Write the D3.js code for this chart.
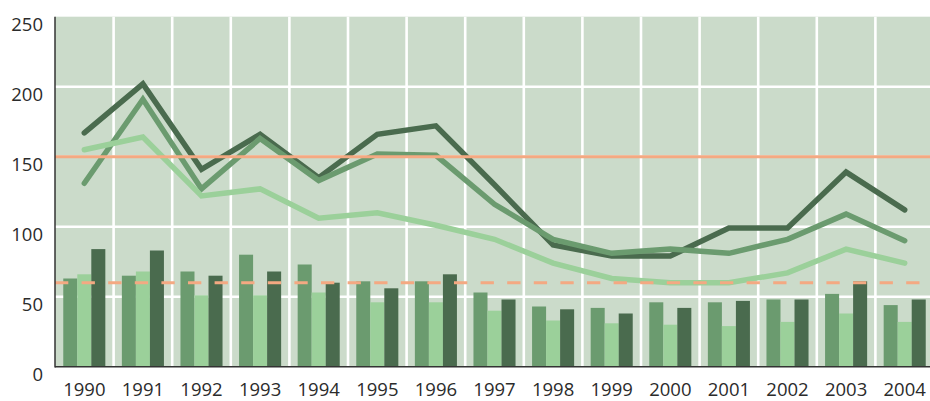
<!DOCTYPE html>
<html>
<head>
<meta charset="utf-8">
<script src="https://cdn.jsdelivr.net/npm/d3@7"></script>
<style>
  html, body { margin: 0; padding: 0; background: #ffffff; }
  svg { display: block; }
  text { font-family: "Open Sans", "Noto Sans", sans-serif; fill: #2b2b2b; }
</style>
</head>
<body>
<svg id="chart" width="930" height="401"></svg>
<script>
const years = ["1990","1991","1992","1993","1994","1995","1996","1997","1998","1999","2000","2001","2002","2003","2004"];
const yTicks = [0, 50, 100, 150, 200, 250];

// bar series (left → right inside each group)
const barMid   = [63, 65, 68, 80, 73, 61, 61, 53, 43, 42, 46, 46, 48, 52, 44];
const barLight = [66, 68, 51, 51, 53, 46, 46, 40, 33, 31, 30, 29, 32, 38, 32];
const barDark  = [84, 83, 65, 68, 60, 56, 66, 48, 41, 38, 42, 47, 48, 61, 48];

// line series
const lineDark  = [167, 202, 141, 166, 135, 166, 172, 130, 87, 79, 79, 99, 99, 139, 112];
const lineMid   = [131, 191, 127, 163, 133, 152, 151, 116, 91, 81, 84, 81, 91, 109, 90];
const lineLight = [155, 164, 122, 127, 106, 110, 101, 91, 74, 63, 60, 60, 67, 84, 74];

// reference levels
const refSolid  = 150;
const refDashed = 60;

const C = {
  bg: "#cbdbca",
  mid: "#6b9b6f",
  light: "#9bd09a",
  dark: "#4a6b4e",
  orange: "#f4a982",
  axis: "#333333"
};

const svg = d3.select("#chart");
const pL = 55, pR = 934, pT = 16.7, pB = 366.7;

const x = d3.scaleBand().domain(years).range([pL, pR]).padding(0);
const y = d3.scaleLinear().domain([0, 250]).range([pB, pT]);
const sub = d3.scaleBand().domain(["mid","light","dark"]).range([0, x.bandwidth()])
  .paddingInner(0).paddingOuter(0.59);

// background
svg.append("rect").attr("x", pL).attr("y", pT)
  .attr("width", pR - pL).attr("height", pB - pT).attr("fill", C.bg);

// gridlines
const g = svg.append("g");
g.selectAll("line.h").data(yTicks.filter(d => d > 0 && d < 250)).join("line")
  .attr("x1", pL).attr("x2", pR)
  .attr("y1", d => y(d)).attr("y2", d => y(d))
  .attr("stroke", "#ffffff").attr("stroke-width", 2.6);
g.selectAll("line.v").data(years.slice(1)).join("line")
  .attr("x1", d => x(d)).attr("x2", d => x(d))
  .attr("y1", pT).attr("y2", pB)
  .attr("stroke", "#ffffff").attr("stroke-width", 2.6);

// bars
const series = [
  { key: "mid", values: barMid, color: C.mid },
  { key: "light", values: barLight, color: C.light },
  { key: "dark", values: barDark, color: C.dark }
];
series.forEach(s => {
  svg.append("g").selectAll("rect").data(years).join("rect")
    .attr("x", (d) => x(d) + sub(s.key))
    .attr("width", sub.bandwidth())
    .attr("y", (d, i) => y(s.values[i]))
    .attr("height", (d, i) => pB - y(s.values[i]))
    .attr("fill", s.color);
});

// lines
const line = d3.line().x((d, i) => x(years[i]) + x.bandwidth() / 2).y(d => y(d));
[[lineDark, C.dark], [lineMid, C.mid], [lineLight, C.light]].forEach(([vals, col]) => {
  svg.append("path").datum(vals).attr("d", line)
    .attr("fill", "none").attr("stroke", col).attr("stroke-width", 5.5)
    .attr("stroke-linecap", "round").attr("stroke-linejoin", "miter");
});

// reference lines
svg.append("line").attr("x1", pL).attr("x2", pR)
  .attr("y1", y(refSolid)).attr("y2", y(refSolid))
  .attr("stroke", C.orange).attr("stroke-width", 3);
svg.append("line").attr("x1", pL).attr("x2", pR)
  .attr("y1", y(refDashed)).attr("y2", y(refDashed))
  .attr("stroke", C.orange).attr("stroke-width", 3)
  .attr("stroke-dasharray", "13.3 13.3");

// axes
const xAxis = d3.axisBottom(x).tickSize(0).tickPadding(0);
const xg = svg.append("g").attr("transform", `translate(0,${pB})`).call(xAxis);
xg.select(".domain").remove();
xg.selectAll("text").attr("dy", null).attr("y", 29.5)
  .style("font-size", "18.5px").style("font-family", "'Open Sans', sans-serif").attr("fill", "#2b2b2b");

const yAxis = d3.axisLeft(y).tickValues(yTicks).tickSize(0).tickPadding(0);
const yg = svg.append("g").attr("transform", `translate(43,0)`).call(yAxis);
yg.select(".domain").remove();
yg.selectAll("text").attr("dy", null).attr("y", 13.5).attr("x", 0)
  .style("font-size", "18.5px").style("font-family", "'Open Sans', sans-serif").attr("fill", "#2b2b2b");

// axis lines
svg.append("line").attr("x1", pL).attr("x2", pL).attr("y1", pT).attr("y2", pB + 0.75)
  .attr("stroke", C.axis).attr("stroke-width", 1.5);
svg.append("line").attr("x1", pL).attr("x2", pR).attr("y1", pB).attr("y2", pB)
  .attr("stroke", C.axis).attr("stroke-width", 1.5);
</script>
</body>
</html>
